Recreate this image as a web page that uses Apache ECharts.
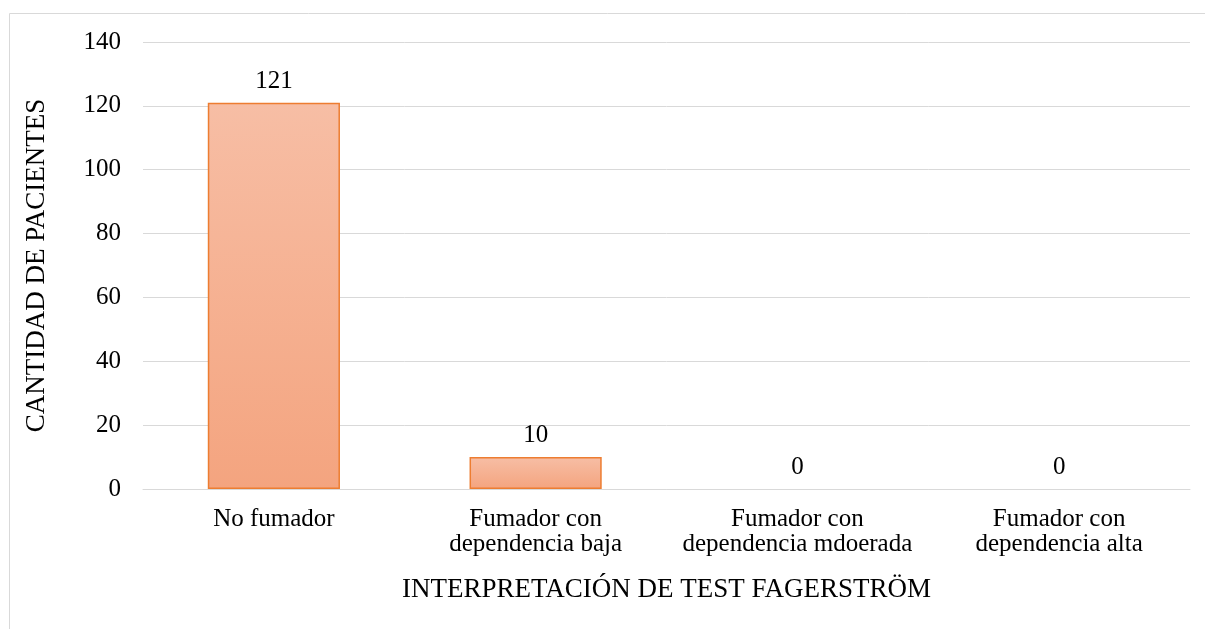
<!DOCTYPE html>
<html>
<head>
<meta charset="utf-8">
<style>
  html, body { margin: 0; padding: 0; background: #fff; }
  #chart { width: 1205px; height: 629px; }
</style>
<script src="https://cdn.jsdelivr.net/npm/echarts@6/dist/echarts.min.js"></script>
</head>
<body>
<div id="chart"></div>
<script>
// datos
const categorias = ['No fumador', 'Fumador con\ndependencia baja', 'Fumador con\ndependencia mdoerada', 'Fumador con\ndependencia alta'];
const pacientes = [121, 10, 0, 0];

const fuente = 'Liberation Serif';
const tam = 25;
const myChart = echarts.init(document.getElementById('chart'));

const option = {
  animation: false,
  textStyle: { fontFamily: fuente },
  graphic: [{
    type: 'rect',
    shape: { x: 9.5, y: 13.5, width: 1210, height: 640 },
    style: { fill: 'none', stroke: '#d9d9d9', lineWidth: 1 },
  }],
  grid: { left: 143, right: 15, top: 42, bottom: 140 },
  xAxis: {
    type: 'category',
    data: categorias,
    name: 'INTERPRETACIÓN DE TEST FAGERSTRÖM',
    nameLocation: 'middle',
    nameGap: 87,
    nameTextStyle: { fontSize: 27, color: '#000', fontFamily: fuente },
    axisLine: { lineStyle: { color: '#d9d9d9', width: 1 } },
    axisTick: { show: false },
    axisLabel: { fontSize: tam, color: '#000', lineHeight: 25, margin: 18, interval: 0, fontFamily: fuente },
  },
  yAxis: {
    type: 'value',
    min: 0,
    max: 140,
    interval: 20,
    name: 'CANTIDAD DE PACIENTES',
    nameLocation: 'middle',
    nameGap: 93,
    nameTextStyle: { fontSize: 27, color: '#000', fontFamily: fuente },
    axisLine: { show: false },
    axisTick: { show: false },
    axisLabel: { fontSize: tam, color: '#000', margin: 22, fontFamily: fuente },
    splitLine: { lineStyle: { color: '#d9d9d9', width: 1 } },
  },
  series: [{
    type: 'bar',
    data: pacientes.map(v => ({
      value: v,
      itemStyle: v === 0 ? { borderWidth: 0 } : undefined,
    })),
    barWidth: '50.5%',
    itemStyle: {
      color: new echarts.graphic.LinearGradient(0, 0, 0, 1, [
        { offset: 0, color: '#f7bea5' },
        { offset: 1, color: '#f4a47f' },
      ]),
      borderColor: '#ed7d31',
      borderWidth: 1.5,
    },
    label: {
      show: true,
      position: 'top',
      distance: 9,
      fontSize: tam,
      color: '#000',
      fontFamily: fuente,
    },
  }],
};

myChart.setOption(option);
</script>
</body>
</html>
